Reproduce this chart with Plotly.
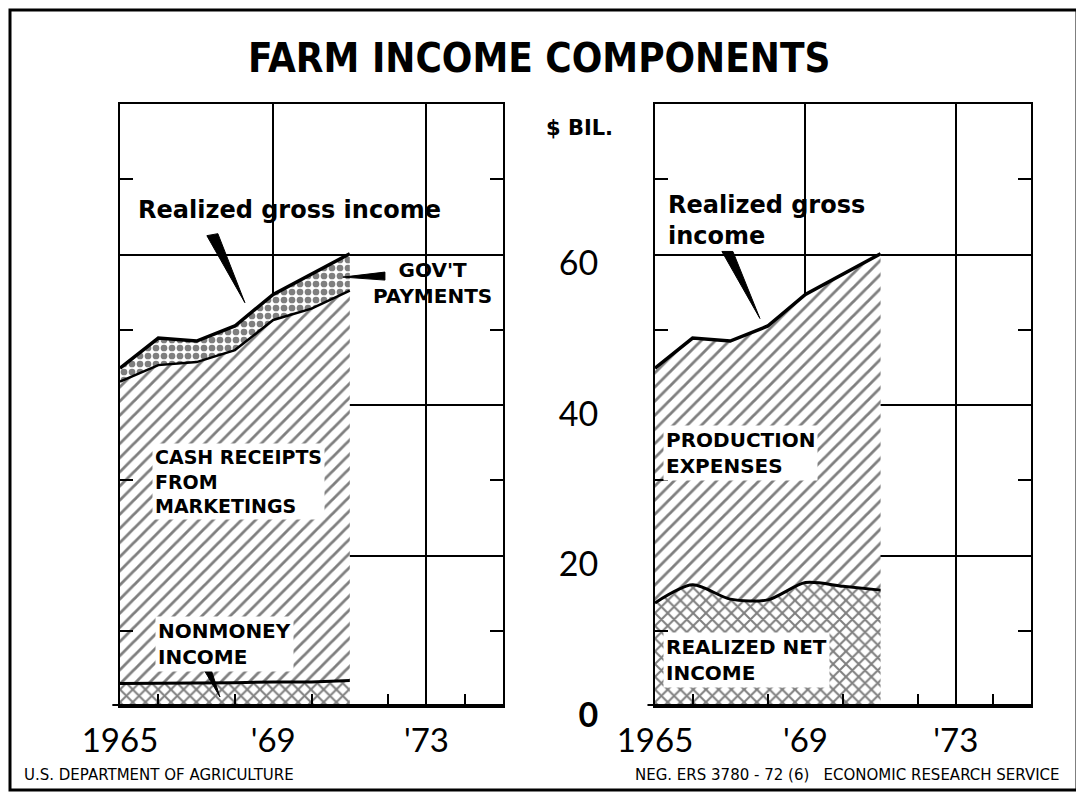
import plotly.graph_objects as go

years = [1965, 1966, 1967, 1968, 1969, 1970, 1971]

# left panel: components of realized gross income, $ bil.
nonmoney_income = [3.0, 3.0, 3.1, 3.1, 3.2, 3.2, 3.4]
cash_receipts = [40.1, 42.3, 42.6, 44.2, 48.1, 49.6, 51.8]
govt_payments = [1.8, 3.6, 2.8, 3.2, 3.4, 4.6, 4.9]

# right panel, $ bil.
realized_gross = [44.9, 48.9, 48.5, 50.5, 54.7, 57.4, 60.1]
realized_net = [13.7, 16.1, 14.2, 14.1, 16.4, 15.9, 15.4]

y_tick_vals = [0, 20, 40, 60]
y_tick_text = ["<b>0</b>", "20", "40", "60"]
y_minor_vals = [10, 30, 50, 70]
x_tick_vals = [1965, 1969, 1973]
x_tick_text = ["1965", "'69", "'73"]
x_minor_vals = [1966, 1968, 1970, 1972, 1974]

# page body adds an 8px margin, so the figure is drawn 8px smaller and
# positions below are given in window pixels
OFF = 8
W, H = 1084 - OFF, 797 - OFF
BOLD = "DejaVu Sans"
NUM = "Lato"


def px_x(p):
    return (p - OFF) / W


def px_y(p):
    return 1 - (p - OFF) / H


def hatch(shape, size, solidity):
    return dict(shape=shape, fgcolor="black", bgcolor="white", size=size, solidity=solidity)


fig = go.Figure()

# left panel, stacked
fig.add_trace(go.Scatter(x=years, y=nonmoney_income, stackgroup="left", mode="lines",
                         line=dict(color="black", width=3),
                         fillpattern=hatch("x", 9, 0.4), xaxis="x", yaxis="y"))
fig.add_trace(go.Scatter(x=years, y=cash_receipts, stackgroup="left", mode="lines",
                         line=dict(color="black", width=2.5),
                         fillpattern=hatch("/", 10, 0.28), xaxis="x", yaxis="y"))
fig.add_trace(go.Scatter(x=years, y=govt_payments, stackgroup="left", mode="lines",
                         line=dict(color="black", width=3.5),
                         fillpattern=hatch(".", 8, 0.55), xaxis="x", yaxis="y"))

# right panel
fig.add_trace(go.Scatter(x=years, y=realized_net, mode="lines", fill="tozeroy",
                         line=dict(color="black", width=3, shape="spline", smoothing=0.8),
                         fillpattern=hatch("x", 9, 0.4), xaxis="x2", yaxis="y2"))
fig.add_trace(go.Scatter(x=years, y=realized_gross, mode="lines", fill="tonexty",
                         line=dict(color="black", width=3.5),
                         fillpattern=hatch("/", 10, 0.28), xaxis="x2", yaxis="y2"))

xaxis_common = dict(
    range=[1965, 1975], tickvals=x_tick_vals, ticktext=x_tick_text, ticks="",
    showgrid=True, gridcolor="black", gridwidth=1.5, zeroline=False, automargin=False,
    showline=True, linecolor="black", linewidth=2, mirror=True,
    tickfont=dict(family=NUM, size=33, color="black"), ticklabelstandoff=4,
    minor=dict(tickvals=x_minor_vals, ticks="inside", ticklen=12, tickwidth=2,
               tickcolor="black", showgrid=False),
)
yaxis_common = dict(
    range=[0, 80], tickvals=y_tick_vals, ticktext=y_tick_text, ticks="",
    showgrid=True, gridcolor="black", gridwidth=1.5, zeroline=False, automargin=False,
    showline=True, linecolor="black", linewidth=2, mirror="allticks",
    tickfont=dict(family=NUM, size=34, color="black"),
    minor=dict(tickvals=y_minor_vals, ticks="inside", ticklen=13, tickwidth=2,
               tickcolor="black", showgrid=False),
)

y_dom = [px_y(706), px_y(104)]
fig.update_layout(
    width=W, height=H, margin=dict(l=0, r=0, t=0, b=0, autoexpand=False),
    paper_bgcolor="white", plot_bgcolor="white", showlegend=False,
    xaxis=dict(xaxis_common, domain=[px_x(120), px_x(503)], anchor="y"),
    yaxis=dict(yaxis_common, domain=y_dom, anchor="x", showticklabels=False),
    xaxis2=dict(xaxis_common, domain=[px_x(655), px_x(1031)], anchor="y2"),
    yaxis2=dict(yaxis_common, domain=y_dom, anchor="x2", showticklabels=True,
                ticklabelstandoff=48, ticklabelshift=9),
)

# heavier base lines
for xr, yr in (("x domain", "y"), ("x2 domain", "y2")):
    fig.add_shape(type="line", xref=xr, yref=yr, x0=-0.02, x1=1, y0=0, y1=0,
                  line=dict(color="black", width=4))

# wedge pointers (pixel paths anchored at the tip)
wedges = [
    ("x", "y", 1968.26, 53.6, "M0,0 L-38,67 L-27,69 Z"),
    ("x", "y", 1970.82, 57.0, "M0,0 L42,5 L42,-3 Z"),
    ("x", "y", 1967.61, 1.2, "M0,0 L-20,34 L-11,34 Z"),
    ("x2", "y2", 1967.79, 51.5, "M0,0 L-38,67 L-27,67 Z"),
]
for xr, yr, xa, ya, path in wedges:
    fig.add_shape(type="path", xref=xr, yref=yr, xsizemode="pixel", ysizemode="pixel",
                  xanchor=xa, yanchor=ya, path=path, fillcolor="black",
                  line=dict(color="black", width=1))

label_font = dict(family=BOLD, size=20, color="black")
notes = [
    ("x", "y", 1965.4, 65.9, "Realized gross income", "left", "middle", None, 24),
    ("x", "y", 1973.17, 56.2, "GOV'T<br>PAYMENTS", "center", "middle", None, 20),
    ("x", "y", 1965.84, 34.9, "CASH RECEIPTS<br>FROM<br>MARKETINGS", "left", "top", "white", 19),
    ("x", "y", 1965.91, 11.9, "NONMONEY<br>INCOME", "left", "top", "white", 20),
    ("x2", "y2", 1965.27, 64.5, "Realized gross<br>income", "left", "middle", None, 24),
    ("x2", "y2", 1965.2, 37.3, "PRODUCTION<br>EXPENSES", "left", "top", "white", 20),
    ("x2", "y2", 1965.2, 9.9, "REALIZED NET<br>INCOME", "left", "top", "white", 20),
]
for xr, yr, xv, yv, txt, xa, ya, bg, sz in notes:
    fig.add_annotation(x=xv, y=yv, xref=xr, yref=yr, text="<b>%s</b>" % txt,
                       showarrow=False, xanchor=xa, yanchor=ya, align=xa,
                       font=dict(label_font, size=sz), bgcolor=bg, borderpad=2)

fig.add_annotation(x=px_x(539), y=px_y(58), xref="paper", yref="paper", showarrow=False,
                   text="<b>FARM INCOME COMPONENTS</b>", xanchor="center", yanchor="middle",
                   font=dict(family="DejaVu Sans Condensed", size=40, color="black"))
fig.add_annotation(x=px_x(579), y=px_y(128), xref="paper", yref="paper", showarrow=False,
                   text="<b>$ BIL.</b>", xanchor="center", yanchor="middle",
                   font=dict(family=BOLD, size=21, color="black"))
fig.add_annotation(x=px_x(22), y=px_y(775), xref="paper", yref="paper", showarrow=False,
                   text="U.S. DEPARTMENT OF AGRICULTURE", xanchor="left", yanchor="middle",
                   font=dict(family="DejaVu Sans", size=15, color="black"))
fig.add_annotation(x=px_x(1062), y=px_y(775), xref="paper", yref="paper", showarrow=False,
                   text="NEG. ERS 3780 - 72 (6)\u00a0\u00a0\u00a0ECONOMIC RESEARCH SERVICE",
                   xanchor="right", yanchor="middle",
                   font=dict(family="DejaVu Sans", size=15, color="black"))

# outer frame
fig.add_shape(type="rect", xref="paper", yref="paper", x0=px_x(10), x1=px_x(1077),
              y0=px_y(790), y1=px_y(10), line=dict(color="black", width=3))

fig.write_html("out.html")
